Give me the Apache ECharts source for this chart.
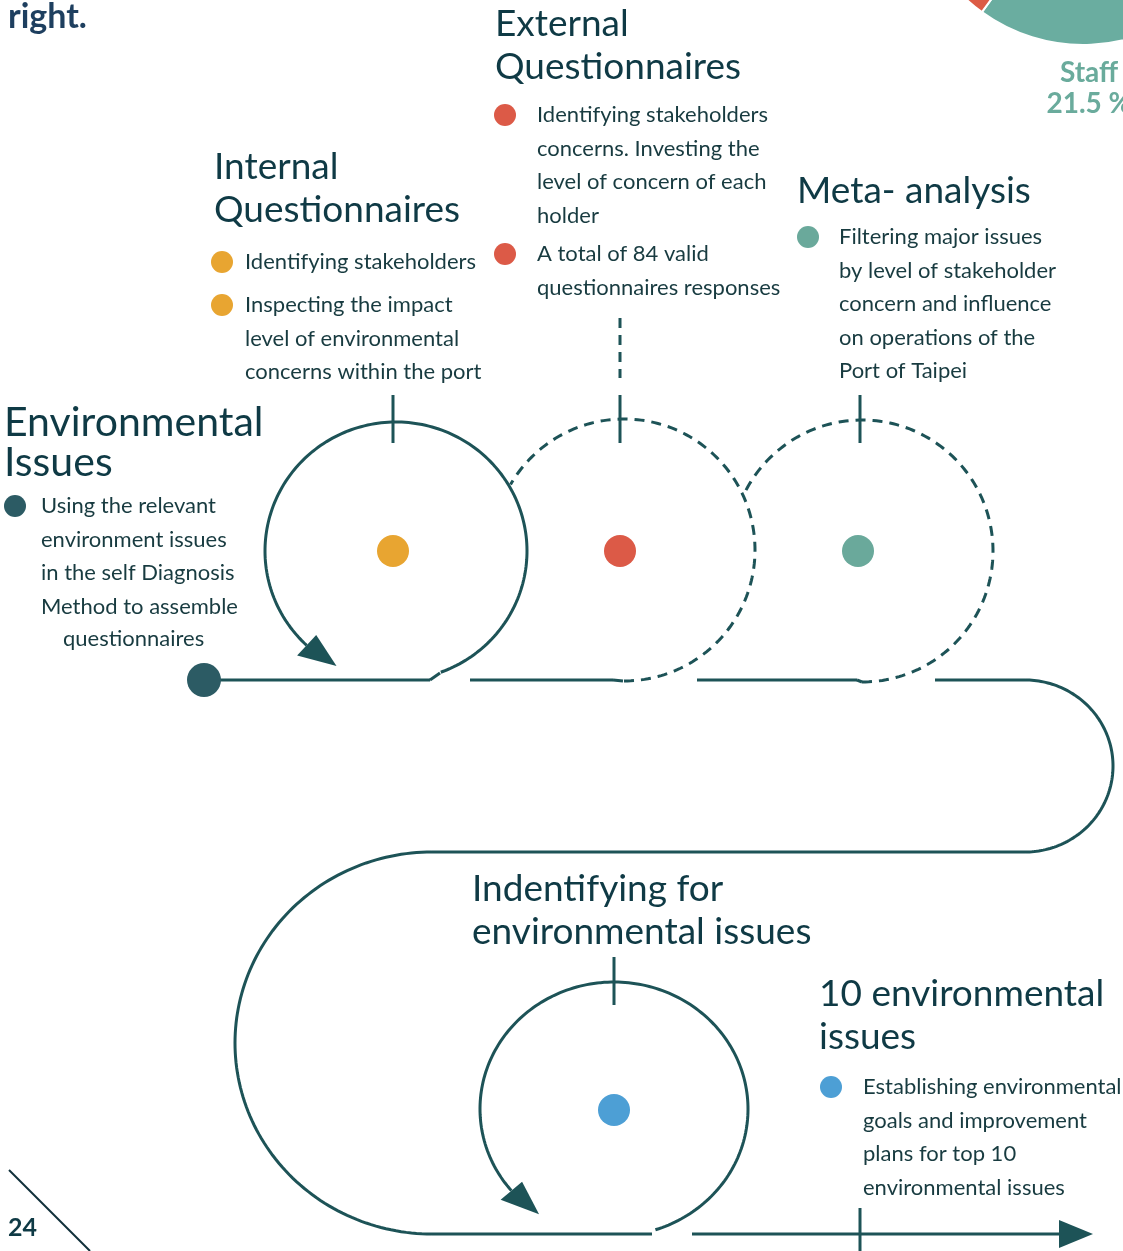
<!DOCTYPE html>
<html>
<head>
<meta charset="utf-8">
<script src="https://cdn.jsdelivr.net/npm/echarts@6/dist/echarts.min.js"></script>
<style>
html,body{margin:0;padding:0;background:#fff;}
#chart{width:1123px;height:1251px;}
</style>
</head>
<body>
<div id="chart"></div>
<script>
// ---------- page space (1 unit = 1 px of the page) ----------
const PAGE_W = 1123;
const PAGE_H = 1251;

// ---------- stages ----------
const stageNames  = ['Environmental\nIssues', 'Internal\nQuestionnaires', 'External\nQuestionnaires', 'Meta- analysis', 'Indentifying for\nenvironmental issues', '10 environmental\nissues'];
const stageTitleX = [4, 214, 495, 797, 472, 819];
const stageTitleY = [423, 167, 24, 191, 889, 994];   // centre of first title line
const stageColors = ['#2c5b64', '#e8a531', '#dc5a47', '#6aa99b', '#4d9fd5', '#4d9fd5'];

// ---------- notes (bullet texts) ----------
const noteText = [
  'Using the relevant\nenvironment issues\nin the self Diagnosis\nMethod to assemble',
  'questionnaires',
  'Identifying stakeholders',
  'Inspecting the impact\nlevel of environmental\nconcerns within the port',
  'Identifying stakeholders\nconcerns. Investing the\nlevel of concern of each\nholder',
  'A total of 84 valid\nquestionnaires responses',
  'Filtering major issues\nby level of stakeholder\nconcern and influence\non operations of the\nPort of Taipei',
  'Establishing environmental\ngoals and improvement\nplans for top 10\nenvironmental issues'
];
const noteX      = [41, 63, 245, 245, 537, 537, 839, 863];
const noteY      = [506, 639, 262, 305, 115, 254, 237, 1087];   // centre of first line
const noteStage  = [0, -1, 1, 1, 2, 2, 3, 5];                   // colour of bullet, -1 = none
const bulletX    = [15, 0, 222, 222, 505, 505, 808, 831];

// ---------- route: straight runs [x1, y1, x2, y2, dashed, arrowAtEnd] ----------
const straightRuns = [
  [204, 680, 430, 680, 0, 0],
  [430, 680, 440, 673, 0, 0],
  [470, 680, 613, 680, 0, 0],
  [613, 680, 624, 681, 1, 0],
  [697, 680, 857, 680, 0, 0],
  [857, 680, 862, 682, 1, 0],
  [935, 680, 1025, 680, 0, 0],
  [1025, 852, 432, 852, 0, 0],
  [432, 1234, 652, 1234, 0, 0],
  [692, 1234, 1059, 1234, 0, 1]
];

// ---------- route: loops [cx, cy, rx, ry, startDeg, endDeg, dashed, arrowAtEnd] ----------
const loopRuns = [
  [396, 551, 131, 129, 70, -227, 0, 1],
  [624, 550, 131, 131, 90, -150, 1, 0],
  [862, 551, 131, 131, 90, -154, 1, 0],
  [1025, 766, 88, 86, -90, 90, 0, 0],
  [432, 1043, 197, 191, -90, -270, 0, 0],
  [614, 1109, 134, 127, 72, -220, 0, 1]
];

// ---------- milestone ticks [x, y1, y2, dashed] ----------
const ticks = [
  [393, 395, 443, 0],
  [620, 395, 443, 0],
  [860, 395, 443, 0],
  [620, 318, 378, 1],
  [614, 957, 1005, 0],
  [860, 1208, 1251, 0]
];

// ---------- hub dots ----------
const hubX = [204, 393, 620, 858, 614];
const hubY = [680, 551, 551, 551, 1110];
const hubStage = [0, 1, 2, 3, 4];

// ---------- partial pie from the neighbouring chart ----------
const pieNames  = ['Staff', 'Other group', 'Remaining groups'];
const pieValues = [21.5, 12, 66.5];
const pieColors = ['#6aada0', '#dc5b45', '#e8a531'];

// ---------- page furniture ----------
const pageText  = ['right.', '24'];
const pageTextX = [8, 8];
const pageTextY = [17, 1228];
const cornerRule = [[9, 1170], [90, 1251]];

// ===================================================================
const LINE = '#1d5357';
const TITLE_C = '#0f3a45';
const BODY_C = '#183b40';
const BODY_FONT = '22px Lato';
const BODY_LH = 33.5;
const TITLE_SIZE = [41, 37, 37, 37, 37, 37];
const TITLE_LH   = [40, 43, 43, 43, 43, 43];
const DASH = [10, 7];

function ellPt(api, cx, cy, rx, ry, deg) {
  const a = deg * Math.PI / 180;
  return api.coord([cx + rx * Math.cos(a), cy + ry * Math.sin(a)]);
}

const chart = echarts.init(document.getElementById('chart'), null, {renderer: 'canvas'});

const option = {
  animation: false,
  backgroundColor: '#ffffff',
  grid: {left: 0, right: 0, top: 0, bottom: 0},
  xAxis: {type: 'value', min: 0, max: PAGE_W, show: false},
  yAxis: {type: 'value', min: 0, max: PAGE_H, inverse: true, show: false},
  series: [
    {
      type: 'pie',
      silent: true,
      center: [1083, -127],
      radius: 172,
      startAngle: 311.4,
      label: {show: false},
      labelLine: {show: false},
      itemStyle: {borderColor: '#ffffff', borderWidth: 2},
      data: pieNames.map((n, i) => ({name: n, value: pieValues[i], itemStyle: {color: pieColors[i]}}))
    },
    {
      type: 'custom',
      name: 'straight runs',
      silent: true,
      data: straightRuns.map(r => [r[0], r[1]]),
      renderItem: function (params, api) {
        const r = straightRuns[params.dataIndex];
        const p1 = api.coord([r[0], r[1]]);
        const p2 = api.coord([r[2], r[3]]);
        const children = [{
          type: 'line',
          shape: {x1: p1[0], y1: p1[1], x2: p2[0], y2: p2[1]},
          style: {stroke: LINE, lineWidth: 3, lineDash: r[4] ? DASH : null}
        }];
        if (r[5]) {
          const dx = p2[0] - p1[0], dy = p2[1] - p1[1];
          const L = Math.hypot(dx, dy), ux = dx / L, uy = dy / L;
          const len = 34, hw = 14;
          children.push({
            type: 'polygon',
            shape: {points: [
              [p2[0] - uy * hw, p2[1] + ux * hw],
              [p2[0] + ux * len, p2[1] + uy * len],
              [p2[0] + uy * hw, p2[1] - ux * hw]
            ]},
            style: {fill: LINE}
          });
        }
        return {type: 'group', children: children};
      }
    },
    {
      type: 'custom',
      name: 'loops',
      silent: true,
      data: loopRuns.map(r => [r[0], r[1]]),
      renderItem: function (params, api) {
        const r = loopRuns[params.dataIndex];
        const [cx, cy, rx, ry, a0, a1, dashed, arrow] = r;
        const n = Math.ceil(Math.abs(a1 - a0) / 1.5);
        const pts = [];
        for (let k = 0; k <= n; k++) pts.push(ellPt(api, cx, cy, rx, ry, a0 + (a1 - a0) * k / n));
        const children = [{
          type: 'polyline',
          shape: {points: pts},
          style: {stroke: LINE, lineWidth: 3, fill: null, lineDash: dashed ? DASH : null}
        }];
        if (arrow) {
          const dir = a1 < a0 ? -1 : 1;
          const hw = 14;
          const inner = ellPt(api, cx, cy, rx - hw, ry - hw, a1);
          const outer = ellPt(api, cx, cy, rx + hw, ry + hw, a1);
          const tip = ellPt(api, cx, cy, rx, ry, a1 + dir * 16);
          children.push({type: 'polygon', shape: {points: [inner, tip, outer]}, style: {fill: LINE}});
        }
        return {type: 'group', children: children};
      }
    },
    {
      type: 'custom',
      name: 'ticks',
      silent: true,
      data: ticks.map(t => [t[0], t[1]]),
      renderItem: function (params, api) {
        const t = ticks[params.dataIndex];
        const p1 = api.coord([t[0], t[1]]);
        const p2 = api.coord([t[0], t[2]]);
        return {
          type: 'line',
          shape: {x1: p1[0], y1: p1[1], x2: p2[0], y2: p2[1]},
          style: {stroke: LINE, lineWidth: 3, lineDash: t[3] ? DASH : null}
        };
      }
    },
    {
      type: 'custom',
      name: 'hubs',
      silent: true,
      data: hubX.map((x, i) => [x, hubY[i]]),
      renderItem: function (params, api) {
        const i = params.dataIndex;
        const p = api.coord([hubX[i], hubY[i]]);
        return {type: 'circle', shape: {cx: p[0], cy: p[1], r: i === 0 ? 17 : 16}, style: {fill: stageColors[hubStage[i]]}};
      }
    },
    {
      type: 'custom',
      name: 'titles',
      silent: true,
      data: stageNames.map((s, i) => [stageTitleX[i], stageTitleY[i]]),
      renderItem: function (params, api) {
        const i = params.dataIndex;
        const p = api.coord([stageTitleX[i], stageTitleY[i] - TITLE_LH[i] / 2]);
        return {
          type: 'text', x: p[0], y: p[1],
          style: {text: stageNames[i], fill: TITLE_C, font: TITLE_SIZE[i] + 'px Lato', align: 'left', verticalAlign: 'top', lineHeight: TITLE_LH[i]}
        };
      }
    },
    {
      type: 'custom',
      name: 'notes',
      silent: true,
      data: noteText.map((s, i) => [noteX[i], noteY[i]]),
      renderItem: function (params, api) {
        const i = params.dataIndex;
        const p = api.coord([noteX[i], noteY[i] - BODY_LH / 2]);
        const children = [{
          type: 'text', x: p[0], y: p[1],
          style: {text: noteText[i], fill: BODY_C, font: BODY_FONT, align: 'left', verticalAlign: 'top', lineHeight: BODY_LH}
        }];
        if (noteStage[i] >= 0) {
          const b = api.coord([bulletX[i], noteY[i]]);
          children.push({type: 'circle', shape: {cx: b[0], cy: b[1], r: 11}, style: {fill: stageColors[noteStage[i]]}});
        }
        return {type: 'group', children: children};
      }
    },
    {
      type: 'custom',
      name: 'page',
      silent: true,
      data: [[0, 0]],
      renderItem: function (params, api) {
        const a = api.coord(cornerRule[0]);
        const b = api.coord(cornerRule[1]);
        const t0 = api.coord([pageTextX[0], pageTextY[0]]);
        const t1 = api.coord([pageTextX[1], pageTextY[1]]);
        const s = api.coord([1089, 72]);
        return {type: 'group', children: [
          {type: 'line', shape: {x1: a[0], y1: a[1], x2: b[0], y2: b[1]}, style: {stroke: '#10303a', lineWidth: 2}},
          {type: 'text', x: t0[0], y: t0[1], style: {text: pageText[0], fill: '#1e3f5f', font: 'bold 34px Lato', align: 'left', verticalAlign: 'middle'}},
          {type: 'text', x: t1[0], y: t1[1], style: {text: pageText[1], fill: TITLE_C, font: 'bold 25px Lato', align: 'left', verticalAlign: 'middle'}},
          {type: 'text', x: s[0], y: s[1] - 15, style: {text: pieNames[0] + '\n' + pieValues[0] + ' %', fill: '#6aab9c', font: 'bold 28px Lato', align: 'center', verticalAlign: 'top', lineHeight: 31}}
        ]};
      }
    }
  ]
};
chart.setOption(option);
</script>
</body>
</html>
